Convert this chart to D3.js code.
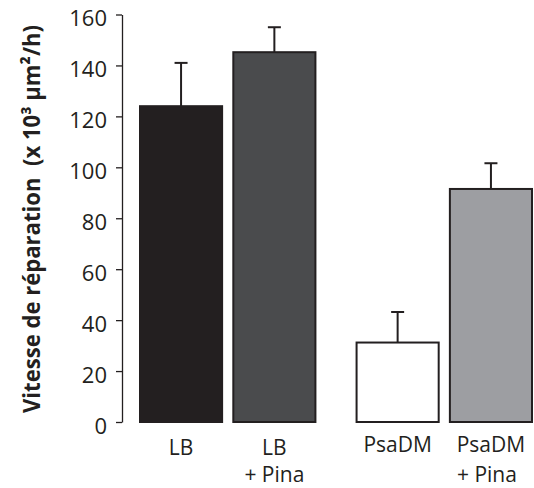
<!DOCTYPE html>
<html>
<head>
<meta charset="utf-8">
<script src="https://cdn.jsdelivr.net/npm/d3@7"></script>
<style>
  body { margin: 0; background: #fff; }
  text { font-family: "Open Sans", sans-serif; fill: #231f20; }
</style>
</head>
<body>
<div id="chart"></div>
<script>
const WIDTH = 534;
const HEIGHT = 488;

// data
var groups = ["LB", "PsaDM"];
var treatments = ["ctrl", "pina"];
var treatmentLabels = ["", "+ Pina"];
var values = [[124, 145.2], [31.2, 91.5]];
var errTops = [[141, 155], [43.2, 101.6]];
var fills = [["#231f20", "#4a4b4d"], ["#ffffff", "#9d9ea2"]];
var yTicks = [0, 20, 40, 60, 80, 100, 120, 140, 160];

var svg = d3.select("#chart").append("svg")
    .attr("width", WIDTH)
    .attr("height", HEIGHT);

var y = d3.scaleLinear().domain([0, 160]).range([422, 14.5]);

var xGroup = d3.scaleBand()
    .domain(groups)
    .range([140, 532])
    .paddingInner(0.19);

var xInner = d3.scaleBand()
    .domain(treatments)
    .range([0, xGroup.bandwidth()])
    .paddingInner(0.12);

// axis
var yAxis = d3.axisLeft(y)
    .tickValues(yTicks)
    .tickSize(6)
    .tickSizeOuter(0)
    .tickPadding(9);

var ax = svg.append("g")
    .attr("transform", "translate(122,0)")
    .call(yAxis);
ax.select(".domain").attr("stroke", "#231f20").attr("stroke-width", 1.3);
ax.selectAll(".tick line").attr("stroke", "#231f20").attr("stroke-width", 1.3);
ax.selectAll(".tick text")
    .attr("font-size", 22)
    .attr("dy", "0.5em")
    .attr("font-family", "'Open Sans', sans-serif")
    .attr("fill", "#231f20");

// axis title
var title = svg.append("text")
    .attr("transform", "translate(40,219) rotate(-90)")
    .attr("text-anchor", "middle")
    .attr("font-size", 23)
    .attr("font-weight", "bold")
    .attr("textLength", 388)
    .attr("lengthAdjust", "spacingAndGlyphs");
title.append("tspan").text("Vitesse de réparation\u00a0\u00a0(x 10³ µm²/h)");

// bars
groups.forEach(function(g, gi) {
  var grp = svg.append("g").attr("transform", "translate(" + xGroup(g) + ",0)");
  treatments.forEach(function(t, ti) {
    var x0 = xInner(t);
    var bw = xInner.bandwidth();
    var cx = x0 + bw / 2;
    var v = values[gi][ti];
    var e = errTops[gi][ti];

    grp.append("line")
        .attr("x1", cx).attr("x2", cx)
        .attr("y1", y(v)).attr("y2", y(e))
        .attr("stroke", "#231f20").attr("stroke-width", 2);
    grp.append("line")
        .attr("x1", cx - 6.5).attr("x2", cx + 6.5)
        .attr("y1", y(e)).attr("y2", y(e))
        .attr("stroke", "#231f20").attr("stroke-width", 2);

    grp.append("rect")
        .attr("x", x0)
        .attr("y", y(v))
        .attr("width", bw)
        .attr("height", y(0) - y(v))
        .attr("fill", fills[gi][ti])
        .attr("stroke", "#231f20")
        .attr("stroke-width", 2);

    grp.append("text")
        .attr("text-anchor", "middle")
        .attr("font-size", 21)
        .attr("x", cx)
        .attr("y", gi == 0 ? 455 : 452)
        .text(g);
    if (treatmentLabels[ti]) {
      grp.append("text")
          .attr("text-anchor", "middle")
          .attr("font-size", 21)
          .attr("x", cx - (gi == 0 ? 0 : 4))
          .attr("y", 482)
          .text(treatmentLabels[ti]);
    }
  });
});
</script>
</body>
</html>
